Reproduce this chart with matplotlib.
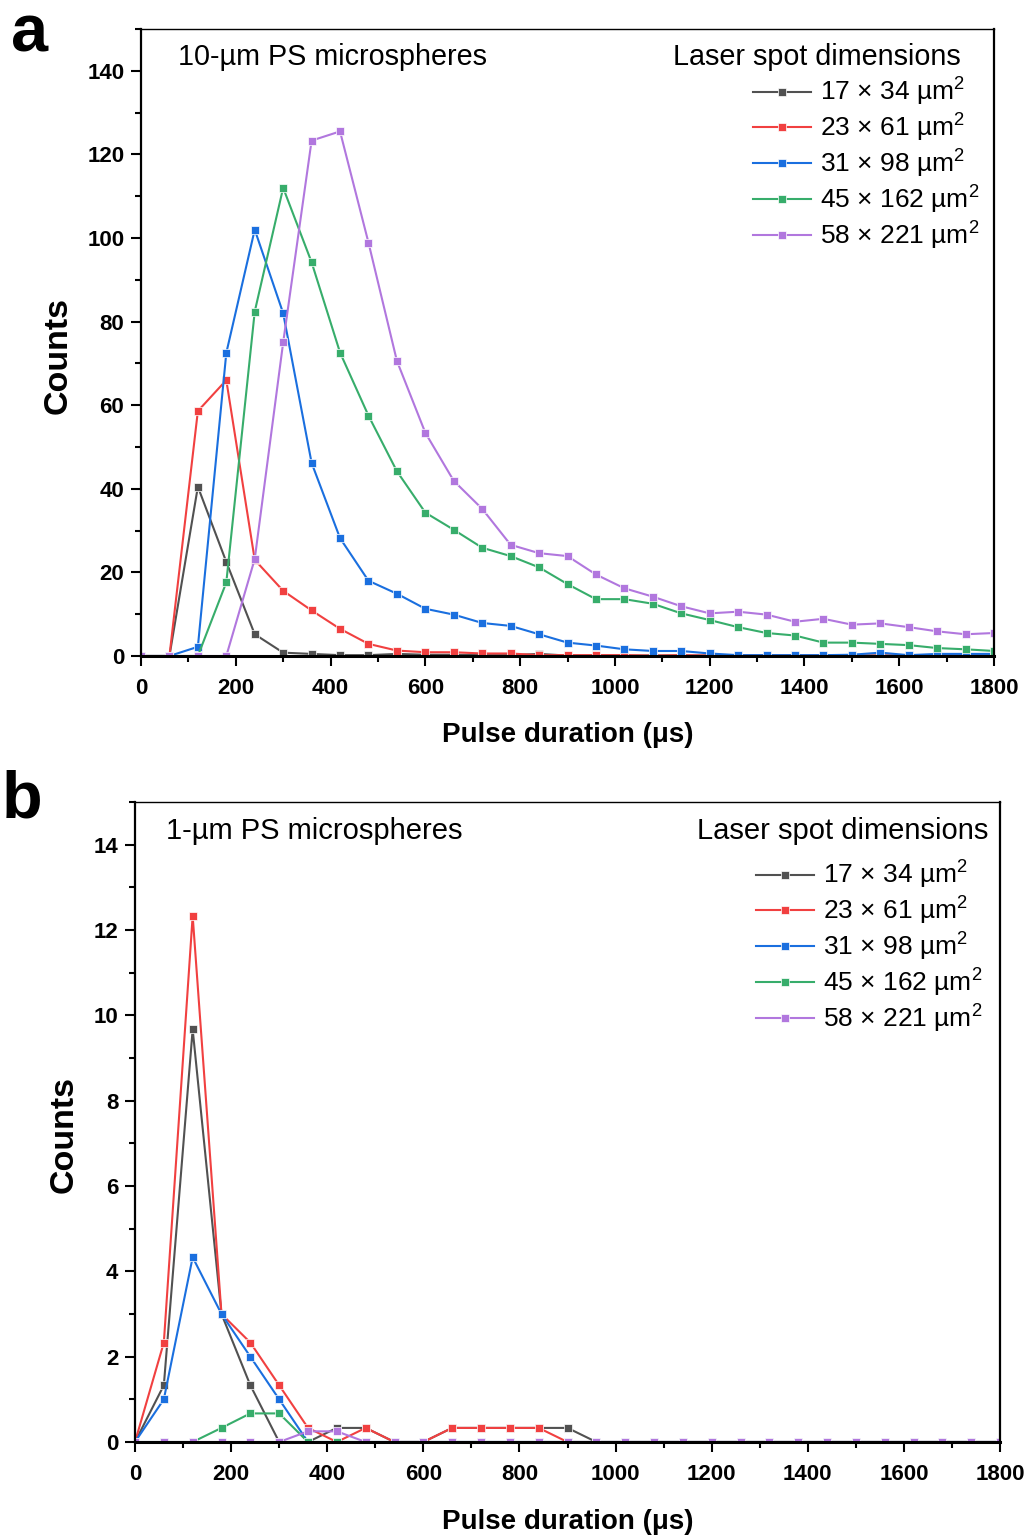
import matplotlib
matplotlib.use('Agg')
import matplotlib.pyplot as plt
from matplotlib.ticker import MultipleLocator

# Fuente tipo Arial, también para el superíndice
plt.rcParams['font.family'] = ['Liberation Sans', 'DejaVu Sans']
plt.rcParams['mathtext.fontset'] = 'custom'
plt.rcParams['mathtext.rm'] = 'Liberation Sans'
plt.rcParams['mathtext.it'] = 'Liberation Sans'

# Duración de pulso (µs), un punto cada 60 µs
duracion = [0, 60, 120, 180, 240, 300, 360, 420, 480, 540, 600, 660, 720, 780, 840, 900,
            960, 1020, 1080, 1140, 1200, 1260, 1320, 1380, 1440, 1500, 1560, 1620, 1680, 1740, 1800]

etiquetas = ['17 × 34 µm$^{2}$', '23 × 61 µm$^{2}$', '31 × 98 µm$^{2}$',
             '45 × 162 µm$^{2}$', '58 × 221 µm$^{2}$']
colores = ['#515151', '#F14040', '#1A6FDF', '#37AD6B', '#B177DE']

# Panel a: microesferas de 10 µm
a_17x34 = [0, 0, 40.5, 22.5, 5.2, 0.8, 0.5, 0.2, 0.2, 0.5, 0.3, 0.3, 0.2, 0.2, 0.5, 0.1,
           0.1, 0.1, 0.1, 0.1, 0.1, 0.1, 0.1, 0.1, 0.1, 0.1, 0.1, 0.1, 0.1, 0.1, 0.1]
a_23x61 = [0, 0, 58.6, 66.0, 23.0, 15.6, 10.9, 6.5, 2.9, 1.3, 0.9, 0.9, 0.6, 0.6, 0.2, 0.2,
           0.2, 0.2, 0.1, 0.2, 0.1, 0.1, 0.1, 0.1, 0.1, 0.1, 0.1, 0.1, 0.1, 0.1, 0.1]
a_31x98 = [0, 0, 2.2, 72.5, 102.0, 82.0, 46.2, 28.2, 18.0, 14.9, 11.3, 9.9, 7.9, 7.2, 5.2, 3.2,
           2.5, 1.6, 1.2, 1.2, 0.6, 0.2, 0.2, 0.2, 0.2, 0.3, 0.8, 0.2, 0.5, 0.5, 0.5]
a_45x162 = [0, 0, 0, 17.6, 82.4, 112.0, 94.2, 72.6, 57.5, 44.2, 34.3, 30.2, 25.9, 23.9, 21.2, 17.2,
            13.6, 13.6, 12.5, 10.2, 8.6, 6.9, 5.5, 4.9, 3.2, 3.2, 2.9, 2.6, 1.9, 1.6, 1.2]
a_58x221 = [0, 0, 0, 0, 23.2, 75.0, 123.3, 125.5, 98.9, 70.6, 53.4, 41.9, 35.2, 26.6, 24.6, 23.9,
            19.5, 16.2, 14.2, 11.9, 10.2, 10.6, 9.9, 8.2, 8.9, 7.5, 7.8, 6.9, 5.9, 5.2, 5.5]

# Panel b: microesferas de 1 µm
b_17x34 = [0, 1.33, 9.67, 3.0, 1.33, 0, 0, 0.33, 0.33, 0, 0, 0.33, 0.33, 0.33, 0.33, 0.33,
           0, 0, 0, 0, 0, 0, 0, 0, 0, 0, 0, 0, 0, 0, 0]
b_23x61 = [0, 2.33, 12.33, 3.0, 2.33, 1.33, 0.33, 0, 0.33, 0, 0, 0.33, 0.33, 0.33, 0.33, 0,
           0, 0, 0, 0, 0, 0, 0, 0, 0, 0, 0, 0, 0, 0, 0]
b_31x98 = [0, 1.0, 4.33, 3.0, 2.0, 1.0, 0, 0, 0, 0, 0, 0, 0, 0, 0, 0,
           0, 0, 0, 0, 0, 0, 0, 0, 0, 0, 0, 0, 0, 0, 0]
b_45x162 = [0, 0, 0, 0.33, 0.67, 0.67, 0, 0, 0, 0, 0, 0, 0, 0, 0, 0,
            0, 0, 0, 0, 0, 0, 0, 0, 0, 0, 0, 0, 0, 0, 0]
b_58x221 = [0, 0, 0, 0, 0, 0, 0.25, 0.25, 0, 0, 0, 0, 0, 0, 0, 0,
            0, 0, 0, 0, 0, 0, 0, 0, 0, 0, 0, 0, 0, 0, 0]


def dibujar_panel(ax, series, ymax, ypaso, titulo, fs_tit, x_tit, x_ley, y_ley, ylab_x, xlab_y):
    for valores, color, etiqueta in zip(series, colores, etiquetas):
        ax.plot(duracion, valores, color=color, lw=1.5, marker='s', ms=5.8,
                mec='white', mew=0.5, label=etiqueta)
    ax.set_xlim(0, 1800)
    ax.set_ylim(0, ymax)
    ax.xaxis.set_major_locator(MultipleLocator(200))
    ax.xaxis.set_minor_locator(MultipleLocator(100))
    ax.yaxis.set_major_locator(MultipleLocator(ypaso))
    ax.yaxis.set_minor_locator(MultipleLocator(ypaso / 2))
    ax.tick_params(which='major', direction='out', length=7, width=1.5, labelsize=16)
    ax.tick_params(which='minor', direction='out', length=4, width=1.5)
    ax.tick_params(axis='x', which='major', pad=8.5)
    ax.tick_params(axis='y', which='major', pad=5)
    for lbl in ax.get_xticklabels() + ax.get_yticklabels():
        lbl.set_fontweight('bold')
    ax.spines['left'].set_linewidth(1.6)
    ax.spines['bottom'].set_linewidth(2.2)
    ax.spines['right'].set_linewidth(1.6)
    ax.spines['top'].set_linewidth(1.0)
    ax.set_xlabel('Pulse duration (μs)', fontsize=20, fontweight='bold')
    ax.set_ylabel('Counts', fontsize=24.5, fontweight='bold')
    ax.yaxis.set_label_coords(ylab_x, 0.48)
    ax.xaxis.set_label_coords(0.5, xlab_y)
    ax.text(x_tit, 0.955, titulo, transform=ax.transAxes, fontsize=fs_tit, va='center', ha='left')
    ax.text(x_ley[1], 0.955, 'Laser spot dimensions', transform=ax.transAxes,
            fontsize=fs_tit, va='center', ha='right')
    ax.legend(loc='upper left', bbox_to_anchor=(x_ley[0], y_ley), frameon=False, fontsize=19,
              handlelength=2.2, handletextpad=0.35, labelspacing=0.14, borderaxespad=0,
              borderpad=0)


fig = plt.figure(figsize=(10.27, 15.35), dpi=100)
ax_a = fig.add_axes([141 / 1027, 1 - 656 / 1535, 853 / 1027, 627 / 1535])
ax_b = fig.add_axes([135 / 1027, 1 - 1442 / 1535, 865 / 1027, 640 / 1535])

dibujar_panel(ax_a, [a_17x34, a_23x61, a_31x98, a_45x162, a_58x221], 150, 20,
              '10-µm PS microspheres', 20.7, 0.043, (0.717, 0.961), 0.925, -0.079, -0.105)
dibujar_panel(ax_b, [b_17x34, b_23x61, b_31x98, b_45x162, b_58x221], 15, 2,
              '1-µm PS microspheres', 21, 0.036, (0.718, 0.987), 0.911, -0.064, -0.104)

fig.text(30 / 1027, 1 - 35 / 1535, 'a', fontsize=48, fontweight='bold', ha='center', va='center')
fig.text(22 / 1027, 1 - 800 / 1535, 'b', fontsize=48, fontweight='bold', ha='center', va='center')

fig.savefig('out.png', dpi=100)
